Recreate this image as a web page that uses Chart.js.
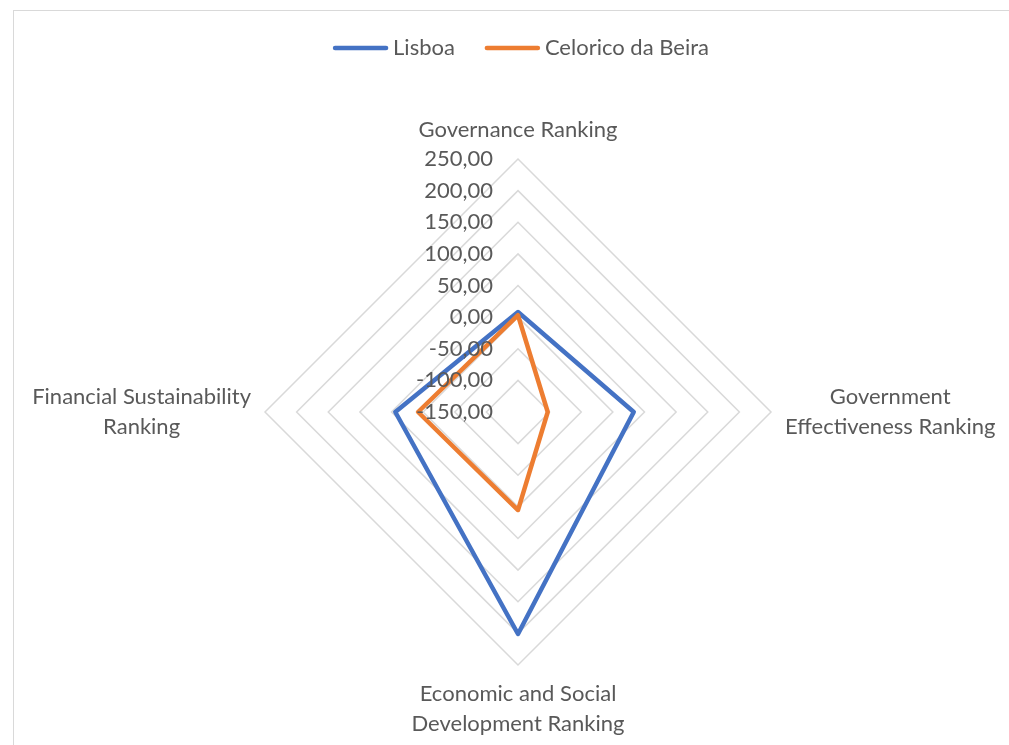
<!DOCTYPE html>
<html lang="en">
<head>
<meta charset="UTF-8">
<title>Lisboa vs Celorico da Beira</title>
<script src="https://cdn.jsdelivr.net/npm/chart.js@4"></script>
<style>
  body { margin: 0; background: #fff; }
  #wrap { width: 1009px; height: 745px; }
</style>
</head>
<body>
<div id="wrap"><canvas id="chart" width="1009" height="745"></canvas></div>
<script>
// data
const categories = [
  ['Governance Ranking'],
  ['Government', 'Effectiveness Ranking'],
  ['Economic and Social', 'Development Ranking'],
  ['Financial Sustainability', 'Ranking']
];
const lisboa = [8, 33, 201, 44];
const celorico = [3, -103, 5, 8];
const seriesNames = ['Lisboa', 'Celorico da Beira'];
const seriesColors = ['#4472C4', '#ED7D31'];
const axisMin = -150, axisMax = 250, axisStep = 50;

const FONT = '22px Lato';
const TEXT = '#595959';

// white background + thin frame like the office chart area
const frame = {
  id: 'frame',
  beforeDraw(chart) {
    const c = chart.ctx;
    c.save();
    c.fillStyle = '#fff';
    c.fillRect(0, 0, chart.width, chart.height);
    c.strokeStyle = '#d9d9d9';
    c.lineWidth = 1;
    c.strokeRect(13.5, 10.5, chart.width, chart.height);
    c.restore();
  }
};

// tick labels (right aligned, comma decimals) and centred category labels
const axisText = {
  id: 'axisText',
  afterDatasetsDraw(chart) {
    const r = chart.scales.r;
    const c = chart.ctx;
    c.save();
    c.font = FONT;
    c.fillStyle = TEXT;
    c.textAlign = 'right';
    c.textBaseline = 'middle';
    r.ticks.forEach(t => {
      const p = r.getPointPositionForValue(0, t.value);
      c.fillText(t.value.toFixed(2).replace('.', ','), p.x - 25, p.y);
    });

    c.textAlign = 'center';
    const lh = 30;
    chart.data.labels.forEach((lines, i) => {
      const p = r.getPointPosition(i, r.drawingArea + 14);
      const w = Math.max(...lines.map(s => c.measureText(s).width));
      const h = lines.length * lh;
      const cx = p.x + Math.cos(p.angle) * w / 2;
      const cy = p.y + Math.sin(p.angle) * h / 2;
      lines.forEach((s, k) => c.fillText(s, cx, cy - h / 2 + lh * (k + 0.5)));
    });
    c.restore();
  }
};

// line-style legend at the top
const legendLine = {
  id: 'legendLine',
  afterDraw(chart) {
    const c = chart.ctx;
    c.save();
    c.font = FONT;
    const items = chart.data.datasets.map(d => ({
      text: d.label, color: d.borderColor, w: c.measureText(d.label).width
    }));
    const sample = 55, gap = 5, space = 30;
    const total = items.reduce((s, it) => s + sample + gap + it.w, 0) + space * (items.length - 1);
    let x = chart.scales.r.xCenter + 3 - total / 2;
    const y = 48;
    items.forEach(it => {
      c.strokeStyle = it.color;
      c.lineWidth = 4.5;
      c.lineCap = 'round';
      c.beginPath();
      c.moveTo(x + 2, y);
      c.lineTo(x + sample - 2, y);
      c.stroke();
      x += sample + gap;
      c.fillStyle = TEXT;
      c.textAlign = 'left';
      c.textBaseline = 'middle';
      c.fillText(it.text, x, y);
      x += it.w + space;
    });
    c.restore();
  }
};

new Chart(document.getElementById('chart'), {
  type: 'radar',
  data: {
    labels: categories,
    datasets: seriesNames.map((name, i) => ({
      label: name,
      data: [lisboa, celorico][i],
      borderColor: seriesColors[i],
      borderWidth: 4.5,
      borderJoinStyle: 'round',
      fill: false,
      pointRadius: 0,
      pointHoverRadius: 0,
      order: i === 0 ? 1 : 0
    }))
  },
  options: {
    responsive: false,
    animation: false,
    layout: { padding: { left: 265, right: 238, top: 79, bottom: 0 } },
    plugins: { legend: { display: false }, tooltip: { enabled: false } },
    scales: {
      r: {
        min: axisMin,
        max: axisMax,
        ticks: { display: false, stepSize: axisStep },
        pointLabels: { display: false },
        angleLines: { display: false },
        grid: { color: '#d9d9d9', lineWidth: 1.5 }
      }
    }
  },
  plugins: [frame, axisText, legendLine]
});
</script>
</body>
</html>
